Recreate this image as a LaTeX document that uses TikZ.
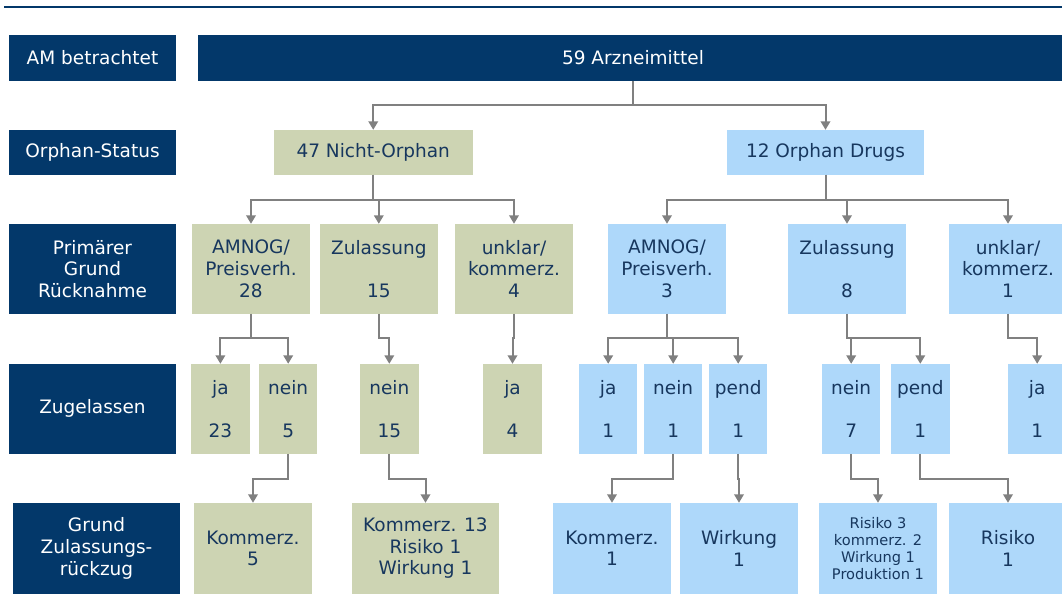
\documentclass[tikz,border=0pt]{standalone}
\usepackage{fontspec}
\setmainfont{DejaVu Sans}
\usetikzlibrary{positioning}
\usetikzlibrary{arrows.meta}
\definecolor{amnavy}{RGB}{3,56,106}
\definecolor{nogreen}{RGB}{205,212,179}
\definecolor{orblue}{RGB}{174,216,250}
\definecolor{txtblue}{RGB}{23,55,94}
\definecolor{lngray}{RGB}{128,128,128}

\begin{document}
\begin{tikzpicture}[x=1pt,y=-1pt,
	lbnode/.style={rectangle, fill=amnavy, text=white, inner sep=0pt, minimum width=167pt, align=center, font=\fontsize{18.5}{21.7}\selectfont},
	nonode/.style={rectangle, fill=nogreen, text=txtblue, inner sep=0pt, minimum width=118pt, align=center, font=\fontsize{18.5}{21.7}\selectfont},
	ornode/.style={nonode, fill=orblue},
	smnode/.style={minimum width=58.5pt},
	conn/.style={draw=lngray, line width=2pt, -{Triangle[length=8.5pt,width=9.5pt]}}]
	\clip (0,0) rectangle (1062,615);
	\draw[amnavy, line width=2pt] (4,6.7) -- (1070,6.7);
	\node[lbnode, minimum height=45.7pt] (lbam) at (92.5,57.85) {AM betrachtet};
	\node[lbnode, minimum height=45.7pt, minimum width=870pt] (arznei) at (633,57.85) {59 Arzneimittel};
	\node[lbnode, minimum height=44.7pt] (lbor) at (92.5,152.35) {Orphan-Status};
	\node[nonode, minimum height=44.7pt, minimum width=198.5pt] (nonorph) at (373.25,152.35) {47 Nicht-Orphan};
	\node[ornode, minimum height=44.7pt, minimum width=197pt] (orph) at (825.5,152.35) {12 Orphan Drugs};
	\node[lbnode, minimum height=89.7pt] (lbgr) at (92.5,268.85) {Primärer\\Grund\\Rücknahme};
	\node[nonode, minimum height=89.7pt] (noamnog) at (251,268.85) {AMNOG/\\Preisverh.\\28};
	\node[nonode, minimum height=89.7pt] (nozul) at (378.8,268.85) {Zulassung\\~\\15};
	\node[nonode, minimum height=89.7pt] (nounk) at (514,268.85) {unklar/\\kommerz.\\4};
	\node[ornode, minimum height=89.7pt] (oamnog) at (667,268.85) {AMNOG/\\Preisverh.\\3};
	\node[ornode, minimum height=89.7pt] (ozul) at (847,268.85) {Zulassung\\~\\8};
	\node[ornode, minimum height=89.7pt] (ounk) at (1008,268.85) {unklar/\\kommerz.\\1};
	\node[lbnode, minimum height=89.7pt] (lbzu) at (92.5,408.85) {Zugelassen};
	\node[nonode, smnode, minimum height=89.7pt] (noja) at (220.4,408.85) {ja\\~\\23};
	\node[nonode, smnode, minimum height=89.7pt] (nonein) at (288.2,408.85) {nein\\~\\5};
	\node[nonode, smnode, minimum height=89.7pt] (nozulnein) at (389.3,408.85) {nein\\~\\15};
	\node[nonode, smnode, minimum height=89.7pt] (nounkja) at (512.5,408.85) {ja\\~\\4};
	\node[ornode, smnode, minimum height=89.7pt] (oja) at (608.2,408.85) {ja\\~\\1};
	\node[ornode, smnode, minimum height=89.7pt] (onein) at (673.2,408.85) {nein\\~\\1};
	\node[ornode, smnode, minimum height=89.7pt] (opend) at (738.2,408.85) {pend\\~\\1};
	\node[ornode, smnode, minimum height=89.7pt] (ozulnein) at (851.2,408.85) {nein\\~\\7};
	\node[ornode, smnode, minimum height=89.7pt] (ozulpend) at (920.3,408.85) {pend\\~\\1};
	\node[ornode, smnode, minimum height=89.7pt] (ounkja) at (1037.2,408.85) {ja\\~\\1};
	\node[lbnode, minimum height=90.7pt] (lbgz) at (96.5,548.35) {Grund\\Zulassungs-\\rückzug};
	\node[nonode, minimum height=90.7pt] (nokomm) at (253,548.35) {Kommerz.\\5};
	\node[nonode, minimum height=90.7pt, minimum width=147pt] (nozulgr) at (425.5,548.35) {Kommerz. 13\\Risiko 1\\Wirkung 1};
	\node[ornode, minimum height=90.7pt] (okomm) at (612,548.35) {Kommerz.\\1};
	\node[ornode, minimum height=90.7pt] (owirk) at (739,548.35) {Wirkung\\1};
	\node[ornode, minimum height=90.7pt, font=\fontsize{14.6}{17}\selectfont] (orisk) at (878,548.35) {Risiko 3\\kommerz. 2\\Wirkung 1\\Produktion 1};
	\node[ornode, minimum height=90.7pt] (orisk1) at (1008,548.35) {Risiko\\1};
	\draw[conn] (arznei.south) -- ++(0,24.3) -| (nonorph.north);
	\draw[conn] (arznei.south) -- ++(0,24.3) -| (orph.north);
	\draw[conn] (nonorph.south) -- ++(0,24.8) -| (noamnog.north);
	\draw[conn] (nonorph.south) -- ++(0,24.8) -| (nozul.north);
	\draw[conn] (nonorph.south) -- ++(0,24.8) -| (nounk.north);
	\draw[conn] (orph.south) -- ++(0,24.8) -| (oamnog.north);
	\draw[conn] (orph.south) -- ++(0,24.8) -| (ozul.north);
	\draw[conn] (orph.south) -- ++(0,24.8) -| (ounk.north);
	\draw[conn] (noamnog.south) -- ++(0,24.3) -| (noja.north);
	\draw[conn] (noamnog.south) -- ++(0,24.3) -| (nonein.north);
	\draw[conn] (nozul.south) -- ++(0,24.3) -| (nozulnein.north);
	\draw[conn] (nounk.south) -- ++(0,24.3) -| (nounkja.north);
	\draw[conn] (oamnog.south) -- ++(0,24.3) -| (oja.north);
	\draw[conn] (oamnog.south) -- ++(0,24.3) -| (onein.north);
	\draw[conn] (oamnog.south) -- ++(0,24.3) -| (opend.north);
	\draw[conn] (ozul.south) -- ++(0,24.3) -| (ozulnein.north);
	\draw[conn] (ozul.south) -- ++(0,24.3) -| (ozulpend.north);
	\draw[conn] (ounk.south) -- ++(0,24.3) -| (ounkja.north);
	\draw[conn] (nonein.south) -- ++(0,25.3) -| (nokomm.north);
	\draw[conn] (nozulnein.south) -- ++(0,25.3) -| (nozulgr.north);
	\draw[conn] (onein.south) -- ++(0,25.3) -| (okomm.north);
	\draw[conn] (opend.south) -- ++(0,25.3) -| (owirk.north);
	\draw[conn] (ozulnein.south) -- ++(0,25.3) -| (orisk.north);
	\draw[conn] (ozulpend.south) -- ++(0,25.3) -| (orisk1.north);
\end{tikzpicture}
\end{document}
